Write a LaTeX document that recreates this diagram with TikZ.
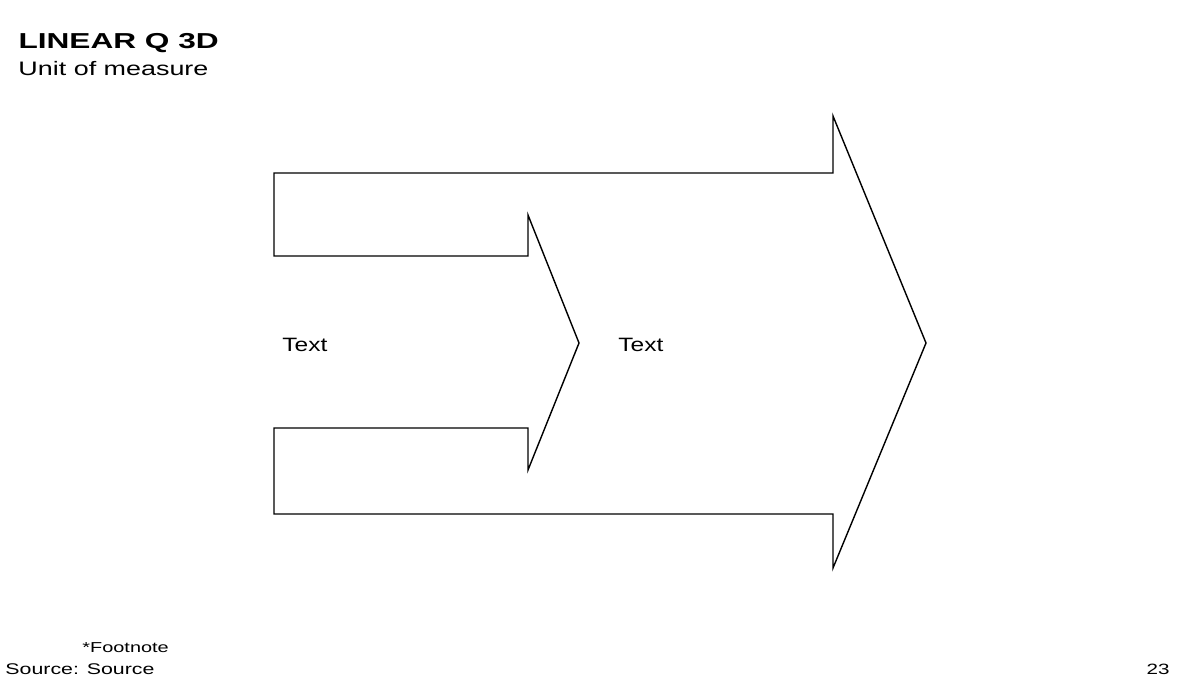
\documentclass[tikz,border=0pt]{standalone}
\usepackage{fontspec}
\setmainfont{Liberation Sans}

\begin{document}
\begin{tikzpicture}[x=0.02cm, y=-0.02cm, line join=miter]
\useasboundingbox (0,0) rectangle (1200,680);
\tikzset{wide/.style={inner sep=0pt, xscale=1.38}}

% heading
\node (title) [wide, xscale=1.06, anchor=base west, font=\bfseries\fontsize{12.3}{15}\selectfont] at (18,48) {LINEAR Q 3D};
\node (unit) [wide, anchor=base west, font=\fontsize{11.1}{13}\selectfont] at (18,75) {Unit of measure};

% arrow outline
\draw[line width=0.8pt] (274,173) -- (833,173) -- (833,116) -- (926,343) -- (833,568) -- (833,514)
  -- (274,514) -- (274,428) -- (528,428) -- (528,470) -- (579,343) -- (528,215) -- (528,256)
  -- (274,256) -- cycle;

\node (inner) [wide, xscale=0.92, anchor=base west, font=\fontsize{11}{13}\selectfont] at (282,351) {Text};
\node (outer) [wide, xscale=0.92, anchor=base west, font=\fontsize{11}{13}\selectfont] at (618,351) {Text};

% footer
\node (footnote) [wide, anchor=base west, font=\fontsize{8.2}{10}\selectfont] at (82,652) {*Footnote};
\node (source) [wide, anchor=base west, font=\fontsize{8.8}{10}\selectfont] at (5,674) {Source: Source};
\node (page) [wide, anchor=base east, font=\fontsize{8.5}{10}\selectfont] at (1170,674) {23};
\end{tikzpicture}
\end{document}
